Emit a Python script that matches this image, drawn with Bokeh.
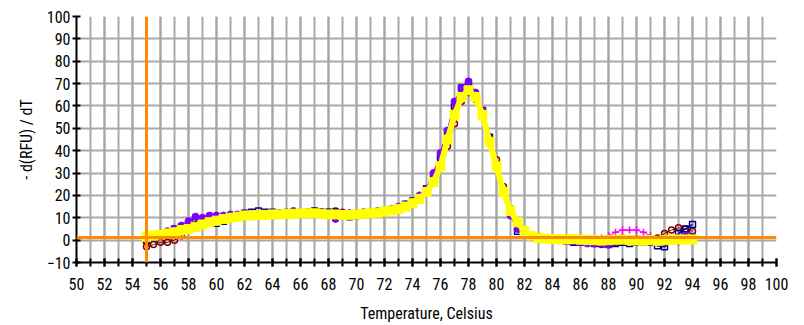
from bokeh.plotting import figure
from bokeh.models import Span, FixedTicker, Range1d
from bokeh.embed import file_html
from bokeh.resources import INLINE

temps = [55.0 + 0.5 * i for i in range(79)]

yellow = [1.5, 2.0, 2.5, 3.0, 3.5, 4.5, 5.0, 6.0, 7.0, 8.0, 8.7, 9.5, 10.0, 10.5, 11.0, 11.0,
          11.2, 11.3, 11.5, 11.5, 11.8, 11.8, 12.0, 12.0, 12.0, 11.8, 11.5, 11.5, 11.3, 11.3,
          11.5, 11.8, 12.0, 12.3, 12.8, 13.3, 14.0, 15.0, 16.5, 18.5, 21.5, 26.0, 33.0, 45.0,
          56.0, 64.0, 67.0, 64.0, 56.0, 44.0, 33.0, 21.5, 13.0, 8.0, 4.0, 2.0, 1.0, 0.7, 0.5,
          0.3, 0.3, 0.5, 0.2, 0.0, 0.0, -0.2, 0.0, 0.2, 0.3, 0.0, -0.2, -0.3, 0.0, -0.3, 0.0,
          0.2, 0.3, 0.3, 0.3]

purple = [0.5, 1.5, 3, 4, 5, 6.5, 8.5, 10.5, 10, 11, 11, 11, 11.5, 11.5, 12, 11.5, 11.5, 11.5,
          12, 12, 12.5, 13, 12.5, 12.5, 12.5, 12.5, 11.5, 9.5, 11, 12, 12, 12.5, 12.5, 13, 13,
          14, 15, 16, 17, 20, 23, 30, 39, 49, 62, 68, 71, 66, 58, 45, 33, 21, 11, 5, 2.5, 1.5,
          1, 1, 0.5, 0, -0.5, -0.5, -1, -1.5, -1.5, -1.5, -2, 0, 1, 0.5, 0, -0.5, -1, -1, -0.5,
          0, 1, 2, 1.5]

navy = [0, 1, 2, 3.5, 5, 6, 7, 8.5, 9, 8, 7.5, 8.5, 10, 11, 12, 12.5, 13, 12.5, 12.5, 12, 12,
        12.5, 12, 12.5, 13, 12.5, 12.5, 12.5, 11, 10.5, 11, 11.5, 12, 12.5, 13, 13.5, 14, 16,
        17.5, 19, 23, 28, 37, 48, 60, 68, 69, 65, 58, 46, 33, 22, 12, 4, 3, 2, 1.5, 1, 1, 0.5,
        -0.5, -1, -1, -1, -1.5, -1.5, -2, -1.5, -1, -1.5, -1, -1, -1, -2.5, -3, 0, 3, 5, 7]

darkred = [-3, -2, -1, -1, 0, 2, 5, 7, 8, 9, 9.5, 10, 10.5, 11, 11, 11, 11.5, 11.5, 11.5, 11.5,
           12, 12, 12, 12, 12.5, 12.5, 12.5, 13, 12.5, 12, 11.5, 11.5, 12, 12.5, 13, 13.5, 14,
           15, 16.5, 18, 21, 26, 34, 42, 52, 62, 66, 63, 57, 46, 36, 24, 14, 7, 3, 1.5, 1, 0.5,
           0.5, 0, 0, -0.5, -0.5, -1, -1, -2, -1.5, -1, 0, 0.5, 0.5, 0, 0, 1, 3, 4.5, 5.5, 5, 4]

magenta = [1, 2, 3, 4, 5, 5.5, 6.5, 8, 9, 10, 10.5, 11, 11, 11.5, 11.5, 11.5, 11.5, 12, 12, 12,
           12, 12.5, 12.5, 12, 12, 12, 12, 12, 12, 11.5, 11.5, 12, 12, 12.5, 13, 14, 15, 15.5,
           17, 19.5, 23, 28, 36, 46, 57, 65, 68, 65, 58, 47, 35, 23, 13, 6, 3, 2, 1.5, 1, 1, 1,
           1, 1, 0.5, 0.5, 0.5, 1, 2, 3.5, 4.5, 4.5, 4.5, 3.5, 2, 0.5, 0, 0, -1, 0, 0.5]

x_ticks = list(range(50, 101, 2))
x_minor = list(range(50, 101, 1))
y_ticks = list(range(-10, 101, 10))
start_line = 55
threshold = 1.2

FONT = "Roboto Condensed"

p = figure(width=804, height=325, output_backend="svg", toolbar_location=None,
           x_range=Range1d(50, 100), y_range=Range1d(-10, 100),
           min_border_left=76, min_border_right=28, min_border_top=16, min_border_bottom=61)
p.outline_line_color = None
p.background_fill_color = "white"
p.border_fill_color = "white"

p.xaxis.ticker = FixedTicker(ticks=x_ticks, minor_ticks=x_minor)
p.yaxis.ticker = FixedTicker(ticks=y_ticks, minor_ticks=[])
for ax in (p.xaxis[0], p.yaxis[0]):
    ax.axis_line_color = "black"
    ax.axis_line_width = 2
    ax.major_tick_line_color = "black"
    ax.major_tick_line_width = 2
    ax.minor_tick_line_color = "black"
    ax.minor_tick_line_width = 2
    ax.major_tick_in = 4
    ax.major_tick_out = 4
    ax.minor_tick_in = 4
    ax.minor_tick_out = 4
    ax.major_label_text_font = FONT
    ax.major_label_text_font_size = "16px"
    ax.major_label_text_color = "black"
    ax.axis_label_text_font = FONT
    ax.axis_label_text_font_size = "16px"
    ax.axis_label_text_font_style = "normal"
    ax.axis_label_text_color = "black"

p.xaxis.axis_label = "Temperature, Celsius"
p.yaxis.axis_label = "- d(RFU) / dT"
p.xaxis.major_label_standoff = 11
p.xaxis.axis_label_standoff = 11
p.yaxis.major_label_standoff = 2
p.yaxis.axis_label_standoff = 8

p.xgrid.grid_line_color = "#a8a8a8"
p.xgrid.grid_line_width = 2
p.xgrid.minor_grid_line_color = "#a8a8a8"
p.xgrid.minor_grid_line_width = 2
p.ygrid.grid_line_color = "#a8a8a8"
p.ygrid.grid_line_width = 2

p.line(temps, magenta, line_color="#ff00ff", line_width=1)
p.scatter(temps, magenta, marker="cross", size=7, line_color="#ff00ff", line_width=1.5)

p.line(temps, darkred, line_color="#800000", line_width=1)
p.scatter(temps, darkred, marker="circle", size=6, line_color="#800000", fill_color=None, line_width=1.5)

p.line(temps, navy, line_color="#000080", line_width=1.5)
p.scatter(temps, navy, marker="square", size=6, line_color="#000080", fill_color=None, line_width=1.5)

p.line(temps, purple, line_color="#7f00ff", line_width=1.5)
p.scatter(temps, purple, marker="circle", size=7, line_color="#7f00ff", fill_color="#7f00ff")

p.line(temps, yellow, line_color="#ffff00", line_width=6)
p.scatter(temps, yellow, marker="square", size=9, line_color="#ffff00", fill_color="#ffff00")

p.add_layout(Span(location=start_line, dimension="height", line_color="#ff8c00", line_width=3))
p.add_layout(Span(location=threshold, dimension="width", line_color="#ff8c00", line_width=3))

open("out.html", "w").write(file_html(p, INLINE))
